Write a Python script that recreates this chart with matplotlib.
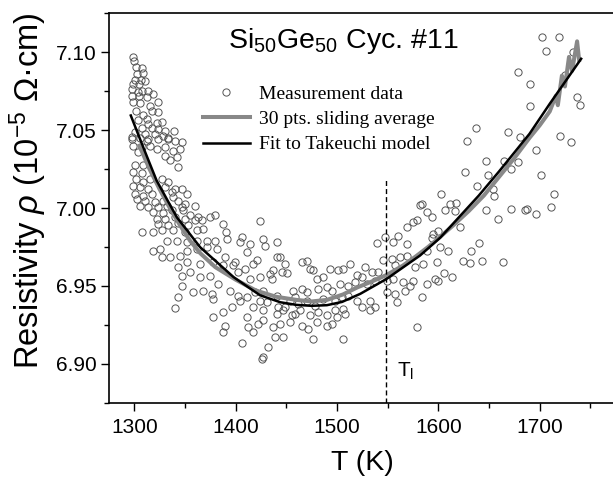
import matplotlib
matplotlib.use('Agg')
import matplotlib.pyplot as plt
from matplotlib.ticker import MultipleLocator, FormatStrFormatter
from matplotlib.lines import Line2D

plt.rcParams['font.family'] = ['Liberation Sans', 'DejaVu Sans']
plt.rcParams['mathtext.fontset'] = 'custom'
plt.rcParams['mathtext.rm'] = 'Liberation Sans'
plt.rcParams['mathtext.it'] = 'Liberation Sans:italic'
plt.rcParams['mathtext.bf'] = 'Liberation Sans:bold'

# ---------------- data ----------------
T_meas = [
    1299.1, 1299.8, 1301.4, 1307.9, 1302.4, 1308.9, 1300.7, 1306.7, 1310.6, 1299.1,
    1304.7, 1313.3, 1298.1, 1304.0, 1307.3, 1318.8, 1297.5, 1304.7, 1312.3, 1323.7,
    1299.1, 1305.7, 1315.5, 1317.8, 1323.7, 1301.4, 1308.9, 1304.0, 1312.3, 1313.9,
    1322.1, 1327.1, 1307.3, 1317.2, 1323.7, 1330.3, 1339.5, 1300.7, 1310.6, 1320.5,
    1328.6, 1297.5, 1313.9, 1333.6,
    1297.5, 1305.7, 1312.3, 1323.7, 1333.6, 1340.2, 1346.8, 1299.1, 1307.3, 1315.5,
    1322.1, 1330.3, 1338.5, 1345.1, 1304.0, 1330.3, 1335.2, 1341.9, 1343.4, 1300.7,
    1308.9, 1299.1, 1307.3, 1301.4, 1308.9, 1315.5, 1327.1, 1333.6, 1299.1, 1305.7,
    1313.9, 1330.3, 1340.2, 1346.8, 1300.7, 1308.9, 1317.2, 1336.9, 1351.7, 1302.4,
    1310.6, 1320.5, 1328.6, 1338.5, 1343.4, 1350.0, 1359.9, 1305.7, 1313.9, 1323.7,
    1332.0, 1346.8, 1318.8, 1328.6, 1336.9, 1348.4, 1355.0, 1363.2, 1322.1, 1330.3,
    1340.2, 1350.0, 1359.9, 1366.5, 1323.7, 1333.6, 1343.4, 1353.3, 1307.3, 1318.8,
    1327.1, 1338.5, 1350.0, 1361.6, 1368.1,
    1374.7, 1379.6, 1424.0, 1387.8, 1390.5, 1406.0, 1427.3, 1440.5, 1391.2, 1332.0,
    1341.9, 1351.7, 1361.6, 1371.4, 1379.6, 1404.3, 1414.2, 1429.0, 1318.8, 1325.4,
    1335.3, 1345.1, 1351.7, 1361.6, 1371.4, 1381.3, 1389.5, 1399.4, 1410.9, 1420.8,
    1440.5, 1327.1, 1343.4, 1351.7, 1364.9, 1377.9, 1387.8, 1397.7, 1409.2, 1417.4,
    1433.9, 1346.8, 1355.0, 1364.9, 1374.7, 1402.6, 1414.2, 1424.0, 1437.1, 1435.5,
    1346.8, 1358.2, 1368.1, 1376.4, 1382.9, 1394.4, 1402.6, 1410.9, 1419.1, 1427.3,
    1440.5, 1343.4, 1340.2, 1378.0, 1387.8, 1396.1, 1404.3, 1417.4, 1427.3, 1440.5,
    1378.0, 1389.5, 1387.8, 1410.9, 1412.5, 1417.4, 1422.3, 1437.1, 1438.8, 1406.0,
    1432.2, 1427.3, 1425.7,
    1424.0, 1430.6, 1442.1, 1427.3,
    1581.8, 1588.4, 1593.3, 1568.7, 1575.2, 1578.5, 1560.4, 1568.7, 1539.1, 1547.3,
    1555.5, 1594.9, 1599.9, 1443.7, 1448.7, 1445.4, 1450.3, 1465.1, 1470.1, 1473.3,
    1476.6, 1479.9, 1486.4, 1493.0, 1501.2, 1506.2, 1512.8, 1519.4, 1524.3, 1527.6,
    1534.2, 1540.7, 1545.6, 1553.9, 1557.1, 1562.1, 1568.7, 1576.9, 1585.1, 1588.4,
    1598.3, 1456.9, 1465.1, 1470.1, 1481.5, 1489.8, 1494.7, 1502.9, 1511.1, 1517.7,
    1529.2, 1537.4, 1549.0, 1555.5, 1565.3, 1575.2, 1588.4, 1596.6, 1599.9, 1448.7,
    1453.6, 1458.5, 1461.8, 1470.1, 1478.3, 1486.4, 1498.0, 1504.6, 1511.1, 1524.3,
    1532.5, 1537.4, 1549.0, 1557.1, 1558.8, 1567.0, 1571.9, 1583.5, 1447.0, 1455.3,
    1458.5, 1463.5, 1473.3, 1481.5, 1489.8, 1498.0, 1506.2, 1519.4, 1453.6, 1443.7,
    1465.1, 1471.6, 1479.9, 1489.8, 1494.7, 1499.7, 1507.8, 1532.5, 1447.0, 1476.6,
    1506.2, 1578.5,
    1638.3, 1654.1, 1654.8, 1602.2, 1611.4, 1617.3, 1606.5, 1616.3, 1583.5, 1646.9,
    1659.0, 1672.2, 1685.4, 1687.6, 1696.2, 1711.7, 1714.0, 1621.3, 1593.3, 1601.5,
    1609.7, 1640.3, 1631.8, 1624.5, 1631.1, 1642.7, 1664.0, 1605.5, 1613.1,
    1706.8, 1678.8, 1691.0, 1690.3, 1637.7, 1628.5, 1668.9, 1680.4, 1696.9, 1646.9,
    1664.6, 1678.8, 1672.2, 1626.2, 1649.2, 1701.8,
    1702.8, 1719.2, 1733.0, 1724.8, 1736.9, 1740.3, 1720.6, 1731.4,
]

rho_meas = [
    7.0972, 7.0942, 7.0904, 7.0900, 7.0861, 7.0865, 7.0823, 7.0823, 7.0818, 7.0797,
    7.0793, 7.0754, 7.0765, 7.0743, 7.0754, 7.0733, 7.0716, 7.0722, 7.0711, 7.0679,
    7.0679, 7.0673, 7.0652, 7.0621, 7.0615, 7.0621, 7.0594, 7.0562, 7.0573, 7.0540,
    7.0544, 7.0551, 7.0515, 7.0515, 7.0508, 7.0497, 7.0497, 7.0487, 7.0472, 7.0476,
    7.0465, 7.0454, 7.0444, 7.0450,
    7.0444, 7.0448, 7.0433, 7.0440, 7.0444, 7.0433, 7.0422, 7.0401, 7.0390, 7.0401,
    7.0380, 7.0390, 7.0369, 7.0380, 7.0358, 7.0337, 7.0305, 7.0326, 7.0262, 7.0273,
    7.0277, 7.0230, 7.0226, 7.0187, 7.0166, 7.0187, 7.0187, 7.0166, 7.0144, 7.0133,
    7.0123, 7.0133, 7.0123, 7.0123, 7.0091, 7.0080, 7.0091, 7.0101, 7.0091, 7.0059,
    7.0048, 7.0037, 7.0048, 7.0069, 7.0048, 7.0027, 7.0016, 7.0016, 7.0005, 7.0005,
    7.0016, 7.0005, 6.9973, 6.9969, 6.9984, 6.9984, 6.9952, 6.9941, 6.9931, 6.9931,
    6.9941, 6.9931, 6.9920, 6.9920, 6.9898, 6.9892, 6.9905, 6.9892, 6.9845, 6.9845,
    6.9856, 6.9856, 6.9845, 6.9856, 6.9866,
    6.9941, 6.9952, 6.9915, 6.9898, 6.9845, 6.9817, 6.9802, 6.9780, 6.9802, 6.9791,
    6.9791, 6.9780, 6.9787, 6.9791, 6.9791, 6.9780, 6.9770, 6.9759, 6.9723, 6.9738,
    6.9684, 6.9695, 6.9727, 6.9738, 6.9748, 6.9738, 6.9684, 6.9652, 6.9716, 6.9663,
    6.9684, 6.9684, 6.9620, 6.9652, 6.9642, 6.9652, 6.9631, 6.9631, 6.9610, 6.9642,
    6.9577, 6.9566, 6.9588, 6.9556, 6.9566, 6.9588, 6.9545, 6.9556, 6.9599, 6.9545,
    6.9502, 6.9459, 6.9470, 6.9449, 6.9513, 6.9470, 6.9438, 6.9427, 6.9459, 6.9470,
    6.9438, 6.9427, 6.9357, 6.9417, 6.9331, 6.9363, 6.9406, 6.9363, 6.9342, 6.9321,
    6.9299, 6.9245, 6.9202, 6.9299, 6.9235, 6.9202, 6.9256, 6.9235, 6.9170, 6.9132,
    6.9106, 6.9042, 6.9032,
    6.9406, 6.9395, 6.9363, 6.9278,
    7.0022, 6.9973, 6.9941, 6.9877, 6.9909, 6.9920, 6.9823, 6.9770, 6.9774, 6.9812,
    6.9780, 6.9834, 6.9855, 6.9684, 6.9642, 6.9588, 6.9581, 6.9652, 6.9659, 6.9610,
    6.9599, 6.9545, 6.9556, 6.9610, 6.9599, 6.9610, 6.9642, 6.9567, 6.9556, 6.9620,
    6.9588, 6.9588, 6.9663, 6.9674, 6.9631, 6.9684, 6.9695, 6.9620, 6.9642, 6.9727,
    6.9652, 6.9470, 6.9481, 6.9459, 6.9481, 6.9491, 6.9470, 6.9513, 6.9502, 6.9524,
    6.9513, 6.9534, 6.9534, 6.9545, 6.9524, 6.9534, 6.9513, 6.9545, 6.9534, 6.9363,
    6.9406, 6.9427, 6.9385, 6.9406, 6.9374, 6.9417, 6.9406, 6.9427, 6.9438, 6.9363,
    6.9406, 6.9363, 6.9459, 6.9449, 6.9395, 6.9470, 6.9502, 6.9427, 6.9342, 6.9310,
    6.9321, 6.9342, 6.9310, 6.9331, 6.9310, 6.9342, 6.9353, 6.9406, 6.9267, 6.9256,
    6.9245, 6.9224, 6.9267, 6.9245, 6.9256, 6.9299, 6.9321, 6.9342, 6.9170, 6.9160,
    6.9160, 6.9235,
    7.0144, 7.0123, 7.0080, 7.0087, 7.0027, 7.0031, 6.9984, 6.9979, 7.0027, 6.9988,
    6.9931, 6.9995, 6.9988, 6.9995, 6.9963, 7.0005, 7.0091, 6.9877, 6.9809, 6.9748,
    6.9727, 6.9774, 6.9723, 6.9659, 6.9646, 6.9659, 6.9652, 6.9581, 6.9556,
    7.1007, 7.0872, 7.0797, 7.0652, 7.0515, 7.0433, 7.0487, 7.0459, 7.0374, 7.0300,
    7.0300, 7.0294, 7.0252, 7.0230, 7.0215, 7.0215,
    7.1096, 7.1101, 7.1000, 7.0851, 7.0711, 7.0664, 7.0465, 7.0422,
]

T_avg = [1305, 1315, 1325, 1335, 1345, 1355, 1365, 1380, 1400, 1420,
         1440, 1460, 1475, 1490, 1506, 1520, 1535, 1549, 1565, 1578,
         1590, 1601, 1615, 1630, 1645, 1660, 1675, 1690, 1700, 1710,
         1716, 1718, 1722, 1725, 1729, 1732, 1737, 1739]
rho_avg = [7.040, 7.025, 7.012, 7.000, 6.989, 6.979, 6.971, 6.962, 6.954, 6.947,
           6.943, 6.941, 6.940, 6.941, 6.9445, 6.949, 6.953, 6.957, 6.963, 6.969,
           6.975, 6.981, 6.989, 6.998, 7.008, 7.020, 7.032, 7.045, 7.053, 7.062,
           7.072, 7.066, 7.085, 7.078, 7.097, 7.088, 7.107, 7.095]

T_fit = [1296.5, 1310, 1322, 1342, 1365, 1398, 1424, 1444, 1460, 1475, 1490,
         1505, 1523, 1549, 1582, 1602, 1621, 1640, 1660, 1690, 1710, 1741]
rho_fit = [7.0594, 7.037, 7.0176, 6.994, 6.9748, 6.9556, 6.944, 6.9395, 6.9378,
           6.9372, 6.9376, 6.9397, 6.9449, 6.9545, 6.9695, 6.981, 6.9945, 7.008,
           7.0235, 7.0476, 7.0669, 7.0958]

T_l = 1548
legend_labels = ["Measurement data", "30 pts. sliding average", "Fit to Takeuchi model"]
x_ticks = [1300, 1400, 1500, 1600, 1700]
y_ticks = [6.90, 6.95, 7.00, 7.05, 7.10]

# ---------------- figure ----------------
fig = plt.figure(figsize=(6.13, 4.8), dpi=100)
ax = fig.add_axes([109 / 613, 77.3 / 480, 506.6 / 613, 389.4 / 480])

ax.plot(T_meas, rho_meas, linestyle='none', marker='o', ms=5.2,
        mfc='none', mec='#555555', mew=0.7, zorder=2)
ax.plot(T_avg, rho_avg, color='#888888', lw=2.9, solid_joinstyle='round', zorder=3)
ax.plot(T_fit, rho_fit, color='black', lw=1.8, zorder=4)
ax.plot([T_l, T_l], [6.875, 7.018], color='black', lw=1.0, dashes=(3.6, 2.2), zorder=5)
ax.text(1558.8, 6.8914, r'T$_\mathrm{l}$', fontsize=15, ha='left', va='baseline')

ax.text(0.462, 0.910, r'Si$_{50}$Ge$_{50}$ Cyc. #11', transform=ax.transAxes,
        ha='center', va='baseline', fontsize=20.5)

ax.set_xlim(1275, 1775)
ax.set_ylim(6.875, 7.125)
ax.set_xticks(x_ticks)
ax.set_yticks(y_ticks)
ax.xaxis.set_minor_locator(MultipleLocator(50))
ax.yaxis.set_minor_locator(MultipleLocator(0.025))
ax.yaxis.set_major_formatter(FormatStrFormatter('%.2f'))
ax.tick_params(which='major', direction='out', length=5.8, width=1.0, labelsize=15,
               top=False, right=False, pad=3)
ax.tick_params(which='minor', direction='out', length=3.6, width=1.0, top=False, right=False)
ax.tick_params(axis='x', which='major', pad=5)
for s in ax.spines.values():
    s.set_linewidth(1.2)

ax.set_xlabel('T (K)', fontsize=20.5)
ax.xaxis.set_label_coords(0.5, -0.122)
ax.set_ylabel(r'Resistivity $\rho$ (10$^{-5}$ Ω·cm)', fontsize=23.5)
ax.yaxis.set_label_coords(-0.119, 0.544)

handles = [
    Line2D([], [], linestyle='none', marker='o', ms=5.2, mfc='none', mec='#555555', mew=0.7),
    Line2D([], [], color='#888888', lw=2.9),
    Line2D([], [], color='black', lw=1.8),
]
ax.legend(handles, legend_labels, loc='upper left', bbox_to_anchor=(0.1856, 0.816),
          frameon=False, borderpad=0, borderaxespad=0, handlelength=2.4,
          handletextpad=0.5, labelspacing=0.4,
          prop={'family': 'Liberation Serif', 'size': 14})

fig.savefig('out.png', dpi=100)
